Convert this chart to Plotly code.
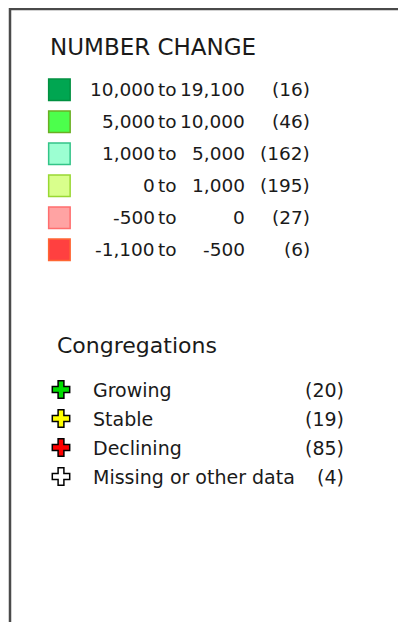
import plotly.graph_objects as go

W, H = 406, 622          # browser window
OFF = 8                  # default page body margin

# ---- data ----
change_low = ["10,000", "5,000", "1,000", "0", "-500", "-1,100"]
change_high = ["19,100", "10,000", "5,000", "1,000", "0", "-500"]
change_counts = [16, 46, 162, 195, 27, 6]
change_fill = ["#00A651", "#4CFF4C", "#9CFFD2", "#D9FF8C", "#FFA3A3", "#FF4040"]
change_line = ["#009040", "#6AAE22", "#33C488", "#99D833", "#FF6E6E", "#FF6633"]

cong_labels = ["Growing", "Stable", "Declining", "Missing or other data"]
cong_counts = [20, 19, 85, 4]
cong_colors = ["#00DD00", "#FFFF00", "#FF0000", "#FFFFFF"]

FONT = "DejaVu Sans"
TXT = "#1a1a1a"

row_y0, row_dy = 89.8, 32
cong_y0, cong_dy = 389.5, 29

fig = go.Figure()

# squares
ys = [row_y0 + i * row_dy for i in range(len(change_counts))]
fig.add_trace(go.Scatter(
    x=[59.4] * len(ys), y=ys, mode="markers", hoverinfo="skip",
    marker=dict(symbol="square", size=21.5, color=change_fill,
                line=dict(color=change_line, width=1.5)),
))

# crosses
cys = [cong_y0 + i * cong_dy for i in range(len(cong_counts))]
fig.add_trace(go.Scatter(
    x=[61] * len(cys), y=cys, mode="markers", hoverinfo="skip",
    marker=dict(symbol="cross", size=14.5, color=cong_colors,
                line=dict(color="#000000", width=1.5)),
))

ann = []
def txt(x, y, s, anchor="left", size=18.5):
    ann.append(dict(x=x, y=y, xref="x", yref="y", text=s, showarrow=False,
                    xanchor=anchor, yanchor="middle",
                    font=dict(family=FONT, size=size, color=TXT)))

txt(48, 46.5, "NUMBER CHANGE", size=23)
for i, y in enumerate(ys):
    txt(156.5, y, change_low[i], anchor="right")
    txt(167, y, "to", anchor="center")
    txt(247, y, change_high[i], anchor="right")
    txt(312, y, "(%d)" % change_counts[i], anchor="right")

txt(55, 345, "Congregations", size=22)
for i, y in enumerate(cys):
    txt(91, y, cong_labels[i], size=19)
    txt(346, y, "(%d)" % cong_counts[i], anchor="right", size=19)

shapes = [
    dict(type="line", xref="x", yref="y", x0=9, x1=W, y0=9, y1=9,
         line=dict(color="#4a4a4a", width=2.5)),
    dict(type="line", xref="x", yref="y", x0=10, x1=10, y0=8, y1=H,
         line=dict(color="#4a4a4a", width=2.5)),
]

fig.update_layout(
    width=W - OFF, height=H - OFF, margin=dict(l=0, r=0, t=0, b=0),
    paper_bgcolor="white", plot_bgcolor="white", showlegend=False,
    xaxis=dict(range=[OFF, W], visible=False, fixedrange=True),
    yaxis=dict(range=[H, OFF], visible=False, fixedrange=True),
    annotations=ann, shapes=shapes,
)

fig.write_html("out.html", config={"displayModeBar": False})
